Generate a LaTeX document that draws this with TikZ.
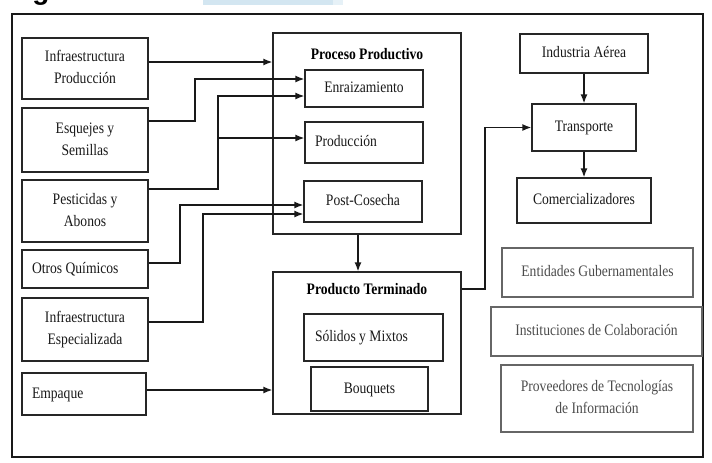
\documentclass[tikz,border=0pt]{standalone}
\usepackage{fontspec}
\setmainfont{Liberation Serif}
\newfontfamily\capfont{Liberation Sans}
\usetikzlibrary{arrows.meta}
\newcommand\tx[1]{\scalebox{0.85}[1]{\begin{tabular}{@{}c@{}}#1\end{tabular}}}
\renewcommand\arraystretch{1.15}
\tikzset{
  box/.style={draw=black!85, line width=1.3pt, rectangle, inner sep=0pt,
    font=\fontsize{16}{19}\selectfont, text=black!90},
  softbox/.style={box, draw=black!60, text=black!70},
  ttl/.style={inner sep=0pt, font=\fontsize{16}{19}\selectfont\bfseries},
  arr/.style={line width=1.4pt, draw=black!90, -{Latex[length=9pt,width=7pt]}},
  wire/.style={line width=1.4pt, draw=black!90},
}
\begin{document}
\begin{tikzpicture}[x=1pt,y=-1pt]
\useasboundingbox (0,0) rectangle (712,463);
\fill[white] (0,0) rectangle (712,463);
% caption fragments at top
\fill[fill={rgb,255:red,211;green,230;blue,241}] (203,0) rectangle (333,5);
\fill[fill={rgb,255:red,230;green,241;blue,247}] (333,0) rectangle (343,5);
\begin{scope}
\clip (0,0) rectangle (712,463);
\node[anchor=base, inner sep=0pt, font=\capfont\bfseries\fontsize{28}{30}\selectfont] (capg) at (41,-0.5) {g};
\end{scope}
% outer frame
\draw[line width=2pt, draw=black!90] (12,14) rectangle (703,457);

% left column
\node[box, minimum width=126pt, minimum height=61pt] (ip) at (85,68.5) {\tx{Infraestructura\\Producción}};
\node[box, minimum width=126pt, minimum height=64pt] (es) at (85,140) {\tx{Esquejes y\\Semillas}};
\node[box, minimum width=126pt, minimum height=62pt] (pa) at (85,211) {\tx{Pesticidas y\\Abonos}};
\node[box, minimum width=126pt, minimum height=38pt] (oq) at (85,269) {\makebox[106pt][l]{\tx{Otros Químicos}}};
\node[box, minimum width=126pt, minimum height=63pt] (ie) at (85,329.5) {\tx{Infraestructura\\Especializada}};
\node[box, minimum width=124pt, minimum height=42pt] (em) at (84,394) {\makebox[104pt][l]{\tx{Empaque}}};

% Proceso Productivo
\node[box, minimum width=188pt, minimum height=201pt] (pp) at (367,133.5) {};
\node[ttl] (ppt) at (367,54) {\scalebox{0.85}[1]{Proceso Productivo}};
\node[box, minimum width=118pt, minimum height=37pt] (en) at (364,88.5) {\tx{Enraizamiento}};
\node[box, minimum width=118pt, minimum height=41pt] (pr) at (364,142.5) {\makebox[98pt][l]{\tx{Producción}}};
\node[box, minimum width=118pt, minimum height=41pt] (pc) at (363,201.5) {\tx{Post-Cosecha}};

% Producto Terminado
\node[box, minimum width=188pt, minimum height=142pt] (ptr) at (367,343) {};
\node[ttl] (ptrt) at (367,289) {\scalebox{0.85}[1]{Producto Terminado}};
\node[box, minimum width=139pt, minimum height=47pt] (sm) at (373.5,337.5) {\makebox[117pt][l]{\tx{Sólidos y Mixtos}}};
\node[box, minimum width=117pt, minimum height=44pt] (bq) at (369.5,389) {\tx{Bouquets}};

% right column
\node[box, minimum width=128pt, minimum height=39pt] (ia) at (584,53.5) {\tx{Industria Aérea}};
\node[box, minimum width=104pt, minimum height=47pt] (tr) at (584,127.5) {\tx{Transporte}};
\node[box, minimum width=134pt, minimum height=45pt] (co) at (584,200.5) {\tx{Comercializadores}};
\node[softbox, minimum width=191pt, minimum height=49pt] (eg) at (597.5,272.5) {\tx{Entidades Gubernamentales}};
\node[softbox, minimum width=211pt, minimum height=49pt] (ic) at (596.5,331.5) {\tx{Instituciones de Colaboración}};
\node[softbox, minimum width=192pt, minimum height=67pt] (ptec) at (597,398.5) {\tx{Proveedores de Tecnologías\\de Información}};

% connectors from the left column
\draw[arr] (ip.east |- 0,62) -- (pp.west |- 0,62);
\draw[arr] (es.east |- 0,121) -| (195,79) -- (en.west |- 0,79);
\draw[arr] (pa.east |- 0,189) -| (218,96) -- (en.west |- 0,96);
\coordinate (pab) at (218,138);
\draw[arr] (pab) -- (pr.west |- pab);
\draw[arr] (oq.east |- 0,263) -| (180,205) -- (pc.west |- 0,205);
\draw[arr] (ie.east |- 0,322) -| (203,214) -- (pc.west |- 0,214);
\draw[arr] (em.east |- 0,390) -- (ptr.west |- 0,390);

% process flow
\draw[arr] (pp.south -| 358,0) -- (ptr.north -| 358,0);
\draw[arr] (ptr.east |- 0,289) -| (485,127.5) -- (tr.west);
\draw[arr] (ia.south) -- (tr.north);
\draw[arr] (tr.south) -- (co.north);
\end{tikzpicture}
\end{document}
